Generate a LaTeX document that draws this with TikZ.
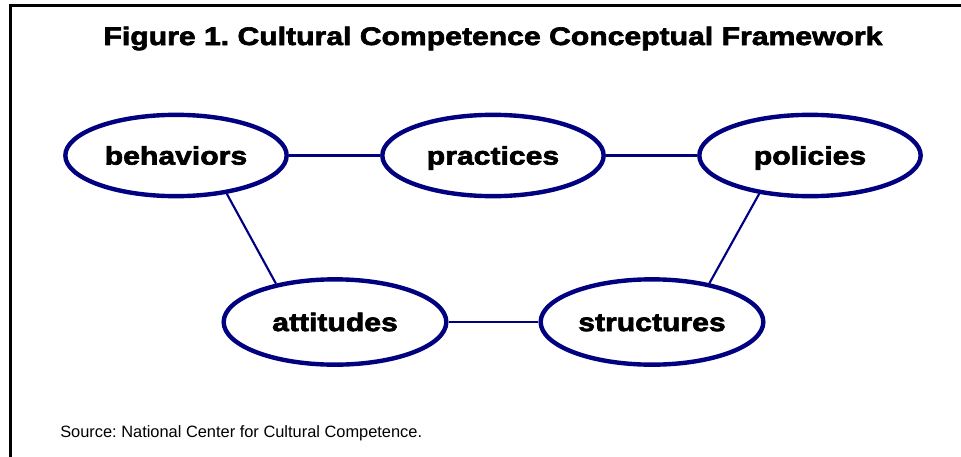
\documentclass[tikz,border=0pt]{standalone}
\usepackage{fontspec}
\setmainfont{Liberation Sans}
\newfontfamily\heavyfont{Liberation Sans}[FakeStretch=1.19,FakeBold=2.6]
\usetikzlibrary{shapes.geometric}
\definecolor{navy}{RGB}{0,0,128}
\frenchspacing
\begin{document}
\frenchspacing
\begin{tikzpicture}[x=0.75pt,y=-0.75pt,
  oval/.style={ellipse,draw=navy,line width=3.3pt,fill=white,inner sep=0pt,
    minimum width=166pt,minimum height=61pt,
    font=\heavyfont\bfseries\fontsize{19}{23}\selectfont,
    text height=13.6pt,text depth=0pt},
  lowoval/.style={oval,minimum width=167pt,minimum height=64pt},
  conn/.style={draw=navy,line width=1.6pt},
  frame/.style={draw=black,line width=2.1pt}]
\useasboundingbox (0,0) rectangle (961,457);
\draw[frame] (10.3,458) -- (10.3,5.7) -- (962,5.7);
\node[anchor=base,font=\heavyfont\bfseries\fontsize{19}{23}\selectfont] (title) at (493,45)
  {Figure 1. Cultural Competence Conceptual Framework};
\node[oval] (beh) at (176,155.5) {behaviors};
\node[oval] (pra) at (493,155.5) {practices};
\node[oval] (pol) at (810,155.5) {policies};
\node[lowoval] (att) at (335,322) {attitudes};
\node[lowoval] (str) at (652,322) {structures};
\draw[conn] (beh) -- (pra);
\draw[conn] (pra) -- (pol);
\draw[conn] (att) -- (str);
\draw[conn] (beh.-37) -- (att.147);
\draw[conn] (pol.217) -- (str.34);
\node[anchor=base west,font=\fontsize{12.3}{14}\selectfont,inner sep=0pt] (src) at (60,437)
  {Source: National Center for Cultural Competence.};
\end{tikzpicture}
\end{document}
